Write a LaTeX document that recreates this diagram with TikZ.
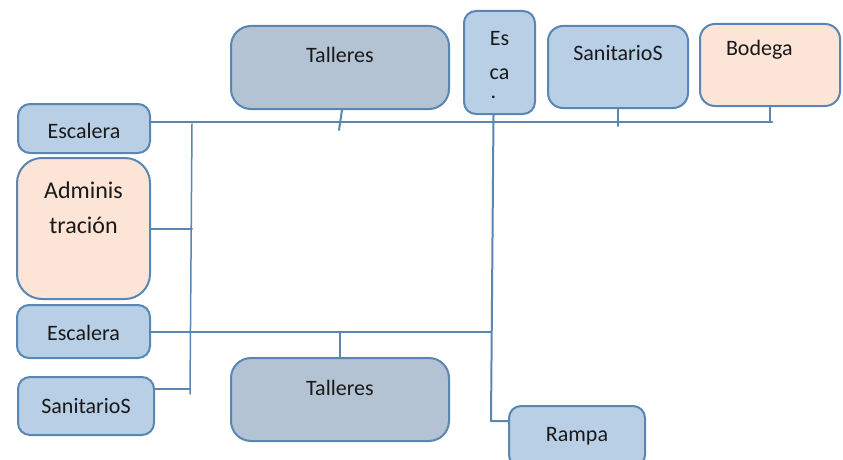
\documentclass[tikz,border=0pt]{standalone}
\usepackage{fontspec}
\setmainfont{Carlito}
\usepackage{tikz}
\definecolor{boxblue}{HTML}{B8CFE6}
\definecolor{boxgray}{HTML}{B3C3D4}
\definecolor{boxpeach}{HTML}{FCE4D6}
\definecolor{edgeblue}{HTML}{5A86B3}

\begin{document}
\begin{tikzpicture}
      [x=1pt,y=-1pt,line cap=round,line join=round,
       room/.style={draw=edgeblue,line width=2pt,rounded corners=12pt,inner sep=0pt,
                    anchor=north west,font=\fontsize{22}{33}\selectfont,text=black!90},
       wire/.style={draw=edgeblue,line width=2pt}]%main layer

\path[use as bounding box,clip] (0,0) rectangle (843,460);

%upper row of rooms
 \node[room,fill=boxgray,rounded corners=20pt,minimum width=218pt,text height=37pt,text depth=46pt] (tallA) at (230,25) {Talleres};
 \node[room,fill=boxblue,minimum width=71pt,text height=88pt,text depth=15pt,align=center] (escaV) at (463,10) {Es\\ca\\[-13pt]\hspace*{-12pt}.};
 \node[room,fill=boxblue,rounded corners=15pt,minimum width=140pt,text height=35pt,text depth=47pt] (sanA) at (547,25) {SanitarioS};
 \node[room,fill=boxpeach,rounded corners=15pt,text width=88pt,inner xsep=26pt,align=left,text height=32pt,text depth=50pt] (bodega) at (699,23) {Bodega};

%left column
 \node[room,fill=boxblue,minimum width=132pt,text height=34pt,text depth=15pt] (escA) at (17,103) {Escalera};
 \node[room,fill=boxpeach,rounded corners=25pt,minimum width=133pt,text height=75pt,text depth=66pt,align=center,
       font=\fontsize{24}{35}\selectfont] (admin) at (16,157) {Adminis\\tración};
 \node[room,fill=boxblue,minimum width=133pt,text height=35pt,text depth=18pt] (escB) at (16,304) {Escalera};
 \node[room,fill=boxblue,minimum width=136pt,text height=36pt,text depth=22pt] (sanB) at (17,376) {SanitarioS};

%lower row
 \node[room,fill=boxgray,rounded corners=20pt,minimum width=218pt,text height=37pt,text depth=46pt] (tallB) at (230,357) {Talleres};
 \node[room,fill=boxblue,minimum width=136pt,text height=35pt,text depth=26pt] (rampa) at (508,405) {Rampa};

%bus lines
 \coordinate (busT) at (772,122);
 \coordinate (spineT) at (192,124);
 \coordinate (spineB) at (190,394);
 \coordinate (rampJ) at (491,421);

 \draw[wire] (escA.east |- busT) -- (busT);
 \draw[wire] ([xshift=2pt]tallA.south) -- ++(-3,20);
 \draw[wire] (sanA.south) -- ++(0,17);
 \draw[wire] (bodega.south) -- (bodega.south |- busT);

 \draw[wire,line width=1.5pt] (spineT) -- (spineB);
 \draw[wire] (admin.east) -- (admin.east -| spineT);
 \draw[wire] (sanB.east |- 0,389) -- (spineB |- 0,389);

 \draw[wire] ([xshift=-6pt]escaV.south) -- (rampJ) -- (rampJ -| rampa.west);
 \draw[wire] (escB.east) -- (escB.east -| rampJ);
 \draw[wire] (tallB.north) -- (tallB.north |- escB.east);

\end{tikzpicture}
\end{document}
